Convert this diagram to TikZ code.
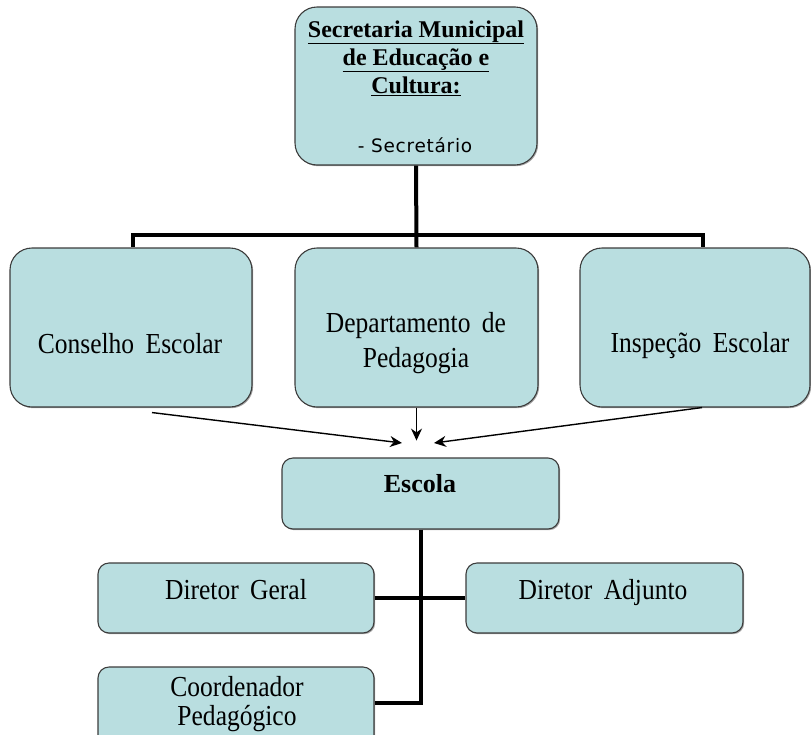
\documentclass[tikz,border=0pt]{standalone}
\usepackage{fontspec}
\setmainfont{Liberation Serif}
\newfontfamily\boxfont[FakeStretch=0.88,WordSpace=1.8]{Liberation Serif}
\newfontfamily\headfont{Liberation Serif}
\newfontfamily\subfont[LetterSpace=4]{DejaVu Sans}
\usetikzlibrary{calc,arrows.meta,shadows}
\definecolor{boxfill}{HTML}{B9DEE0}
\definecolor{boxline}{HTML}{3C3C3C}
\tikzset{
  orgbox/.style={draw=boxline, line width=1.1pt, fill=boxfill, inner sep=0pt,
    drop shadow={shadow xshift=1.2pt, shadow yshift=-1.2pt, fill=black, opacity=0.35}},
  bigbox/.style={orgbox, rounded corners=22pt},
  smallbox/.style={orgbox, rounded corners=11pt},
  lbl/.style={anchor=base, inner sep=0pt, font=\boxfont\fontsize{29}{34}\selectfont},
  hdr/.style={anchor=base, inner sep=0pt, font=\headfont\bfseries\fontsize{24}{28}\selectfont},
  sublbl/.style={anchor=base, inner sep=0pt, font=\subfont\fontsize{18.5}{22}\selectfont},
  conn/.style={line width=4pt, draw=black},
  feed/.style={line width=1.4pt, -{Stealth[length=12pt,width=11pt]}},
}
\begin{document}
\begin{tikzpicture}[x=1pt,y=-1pt]
\useasboundingbox (0,0) rectangle (811,734);
\clip (0,0) rectangle (811,734);

% boxes
\node[bigbox, minimum width=242pt, minimum height=158pt] (sec) at (416,86) {};
\node[bigbox, minimum width=242pt, minimum height=159pt] (cons) at (131,327.5) {};
\node[bigbox, minimum width=243pt, minimum height=159pt] (dep) at (416.5,327.5) {};
\node[bigbox, minimum width=230pt, minimum height=159pt] (insp) at (695,327.5) {};
\node[smallbox, minimum width=277pt, minimum height=71pt] (esc) at (420.5,493.5) {};
\node[smallbox, minimum width=276pt, minimum height=70pt] (dg) at (236,598) {};
\node[smallbox, minimum width=277pt, minimum height=70pt] (da) at (604.5,598) {};
\node[smallbox, minimum width=276pt, minimum height=80pt] (coord) at (236,707) {};

% labels
\node[hdr] (sec1) at (416,37) {\underline{Secretaria Municipal}};
\node[hdr] (sec2) at (416,65) {\underline{de Educação e}};
\node[hdr] (sec3) at (416,93) {\underline{Cultura:}};
\node[sublbl] (sec4) at (415,152) {- Secretário};
\node[lbl] (consl) at (130,353) {Conselho Escolar};
\node[lbl] (dep1) at (416,332) {Departamento de};
\node[lbl] (dep2) at (416,367) {Pedagogia};
\node[lbl] (inspl) at (700,352) {Inspeção Escolar};
\node[anchor=base, inner sep=0pt, font=\headfont\bfseries\fontsize{26}{30}\selectfont] (escl) at (420,492) {Escola};
\node[lbl] (dgl) at (236,599) {Diretor Geral};
\node[lbl] (dal) at (603,599) {Diretor Adjunto};
\node[lbl] (coord1) at (237,696) {Coordenador};
\node[lbl] (coord2) at (237,725) {Pedagógico};

% hierarchy lines
\coordinate (bar) at (416,235);
\draw[conn] (sec.south) -- (dep.north);
\draw[conn] ([xshift=2pt]cons.north) |- (bar) -| ([xshift=8pt]insp.north);
\draw[conn] (esc.south) -- (esc.south |- coord1) |- ([yshift=4pt]coord.east);
\draw[conn] (dg.east) -- (da.west);

% arrows into the school
\coordinate (t1) at (402,443);
\coordinate (t2) at ($(dep.south)+(0,33)$);
\coordinate (t3) at (434,443);
\draw[feed] ($(cons.south)+(21,5)$) -- (t1);
\draw[feed] (dep.south) -- (t2);
\draw[feed] ($(insp.south)+(7,0)$) -- (t3);
\end{tikzpicture}
\end{document}
